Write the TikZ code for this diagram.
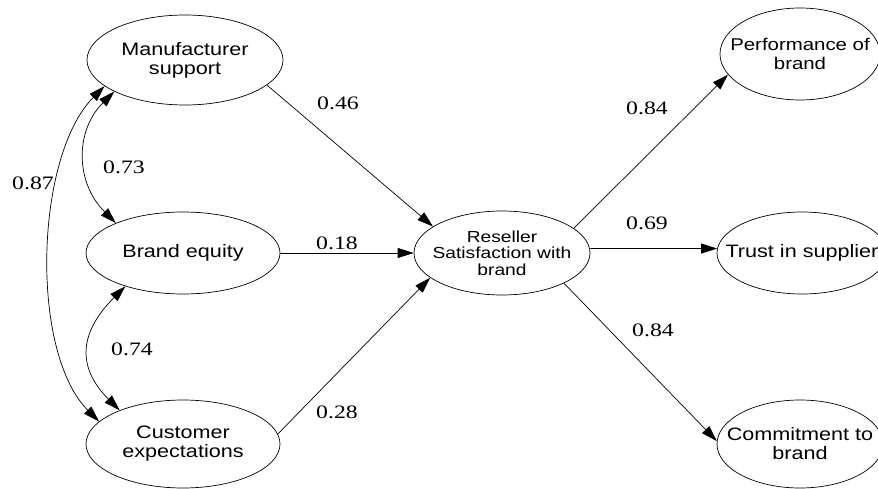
\documentclass[tikz,border=0pt]{standalone}
\usepackage{fontspec}
\setmainfont{Liberation Sans}[FakeStretch=1.2]
\newfontfamily\coeffont{Liberation Serif}[FakeStretch=1.25]
\usetikzlibrary{shapes.geometric,arrows.meta}
\tikzset{/SEM/construct/.style={
	shape=ellipse, draw, inner xsep=-20pt, inner ysep=-10pt, align=center, line width=0.7pt, font=\fontsize{18}{19}\selectfont
}}
\tikzset{/SEM/path/.style={
	draw, line width=0.7pt, -{Triangle[length=16pt,width=10pt]}
}}
\tikzset{/SEM/covar/.style={
	draw, line width=0.7pt, {Triangle[length=16pt,width=10pt]}-{Triangle[length=16pt,width=10pt]}
}}
\tikzset{/SEM/coef/.style={inner sep=0pt, font=\coeffont\fontsize{19}{20}\selectfont
}}
\begin{document}
\begin{tikzpicture}[x=1pt, y=1pt]
			\clip (0,0) rectangle (878,-489);
			% exogenous constructs
			\path node[/SEM/construct, minimum width=196pt, minimum height=90pt] (ms) at (185,-60) {Manufacturer\\support};
			\path node[/SEM/construct, minimum width=194pt, minimum height=82pt] (be) at (183,-253) {Brand equity};
			\path node[/SEM/construct, minimum width=194pt, minimum height=88pt] (ce) at (183,-444) {Customer\\expectations};
			% mediator
			\path node[/SEM/construct, minimum width=176pt, minimum height=84pt, font=\fontsize{16}{16.5}\selectfont] (rs) at (502,-253) {Reseller\\Satisfaction with\\brand};
			% outcomes
			\path node[/SEM/construct, minimum width=160pt, minimum height=92pt, font=\fontsize{17}{18.5}\selectfont] (pb) at (800,-54) {Performance of\\brand};
			\path node[/SEM/construct, minimum width=170pt, minimum height=82pt] (ts) at (802,-253) {Trust in supplier};
			\path node[/SEM/construct, minimum width=166pt, minimum height=88pt] (cb) at (800,-444) {Commitment to\\brand};
			% paths
			\path (ms.343) edge[/SEM/path] (rs.159);
			\path (be.east) edge[/SEM/path] (rs.west);
			\path (ce.6) edge[/SEM/path] (rs.199);
			\path (rs.19) edge[/SEM/path] (pb.196);
			\path (rs.3) edge[/SEM/path] (ts.177);
			\path (rs.334) edge[/SEM/path] (cb.178);
			% correlations
			\path (ms.204) edge[/SEM/covar, out=225, in=135, looseness=1.1] (be.156);
			\path (ms.198) edge[/SEM/covar, out=225, in=135, looseness=0.75] (ce.165);
			\path (be.210) edge[/SEM/covar, out=225, in=135, looseness=1.3] (ce.152);
			% coefficients
			\path node[/SEM/coef] at (338,-103) {0.46};
			\path node[/SEM/coef] at (337,-243) {0.18};
			\path node[/SEM/coef] at (337,-412) {0.28};
			\path node[/SEM/coef] at (647,-108) {0.84};
			\path node[/SEM/coef] at (647,-223) {0.69};
			\path node[/SEM/coef] at (653,-330) {0.84};
			\path node[/SEM/coef] at (124,-167) {0.73};
			\path node[/SEM/coef] at (33,-183) {0.87};
			\path node[/SEM/coef] at (132,-349) {0.74};
		\end{tikzpicture}
\end{document}
